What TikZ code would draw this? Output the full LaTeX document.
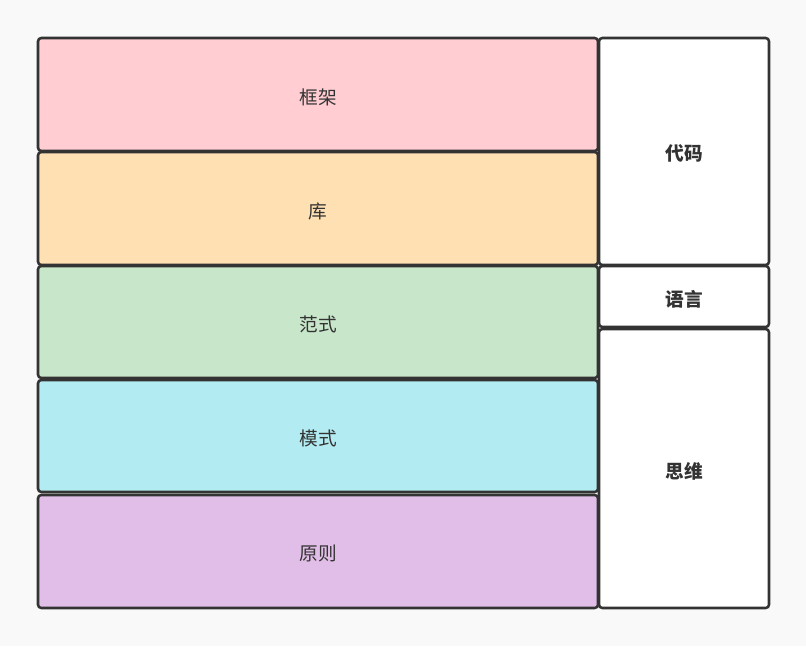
\documentclass[tikz,border=0pt]{standalone}
\usepackage{fontspec}
\newfontfamily\cjk{Noto Sans CJK SC}
\definecolor{bg}{HTML}{F9F9F9}
\definecolor{stroke}{HTML}{333333}
\definecolor{cpink}{HTML}{FFCDD2}
\definecolor{corange}{HTML}{FFE0B2}
\definecolor{cgreen}{HTML}{C8E6C9}
\definecolor{ccyan}{HTML}{B2EBF2}
\definecolor{cpurple}{HTML}{E1BEE7}
\tikzset{
  layer/.style={draw=stroke, line width=1.9pt, rounded corners=2.5pt},
  lbl/.style={font=\cjk\fontsize{14pt}{16pt}\selectfont, text=stroke},
  blbl/.style={font=\cjk\bfseries\fontsize{14pt}{16pt}\selectfont, text=stroke},
}
\begin{document}
\begin{tikzpicture}[x=0.75pt,y=-0.75pt]
\fill[bg] (0,0) rectangle (806,646);
\useasboundingbox (0,0) rectangle (806,646);
% left layers
\draw[layer, fill=cpink]   (38,38)  rectangle (598,151);
\draw[layer, fill=corange] (38,152) rectangle (598,265);
\draw[layer, fill=cgreen]  (38,266) rectangle (598,378);
\draw[layer, fill=ccyan]   (38,380) rectangle (598,492);
\draw[layer, fill=cpurple] (38,495) rectangle (598,608);
\node[lbl] (kuangjia) at (318,97)  {框架};
\node[lbl] (ku)       at (318,211) {库};
\node[lbl] (fanshi)   at (318,324) {范式};
\node[lbl] (moshi)    at (318,438) {模式};
\node[lbl] (yuanze)   at (318,553) {原则};
% right layers
\draw[layer, fill=white] (599,38)  rectangle (769,265);
\draw[layer, fill=white] (599,266) rectangle (769,327);
\draw[layer, fill=white] (599,329) rectangle (769,608);
\node[blbl] (daima)  at (684,153) {代码};
\node[blbl] (yuyan)  at (684,299) {语言};
\node[blbl] (siwei)  at (684,471) {思维};
\end{tikzpicture}
\end{document}
